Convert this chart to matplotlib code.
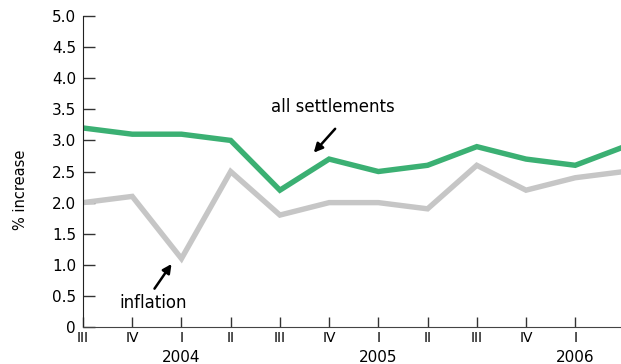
import matplotlib.pyplot as plt
import matplotlib.transforms as mtransforms

plt.rcParams['font.family'] = ['DejaVu Sans']

quarters = ['III', 'IV', 'I', 'II', 'III', 'IV', 'I', 'II', 'III', 'IV', 'I', 'II']
years = ['2004', '2005', '2006']
year_pos = [2, 6, 10]
settlements = [3.2, 3.1, 3.1, 3.0, 2.2, 2.7, 2.5, 2.6, 2.9, 2.7, 2.6, 2.9]
inflation = [2.0, 2.1, 1.1, 2.5, 1.8, 2.0, 2.0, 1.9, 2.6, 2.2, 2.4, 2.5]
yticks = [0, 0.5, 1.0, 1.5, 2.0, 2.5, 3.0, 3.5, 4.0, 4.5, 5.0]

fig = plt.figure(figsize=(6.21, 3.64), dpi=100)
ax = fig.add_axes([0.1337, 0.1016, 0.8663, 0.8544])

x = list(range(len(quarters)))
ax.plot(x, inflation, color='#c6c6c6', lw=3.9, solid_joinstyle='miter')
ax.plot(x, settlements, color='#3bb073', lw=3.9, solid_joinstyle='miter')

ax.set_xlim(0, 10.93)
ax.set_ylim(0, 5)
ax.spines['top'].set_visible(False)
ax.spines['right'].set_visible(False)
ax.spines['left'].set_color('#222222')
ax.spines['bottom'].set_color('#444444')

ax.set_yticks(yticks)
ax.set_yticklabels(['0' if v == 0 else '%.1f' % v for v in yticks], fontsize=11)
ax.set_xticks(x[:11])
ax.set_xticklabels(quarters[:11], fontsize=10)
ax.tick_params(axis='y', direction='in', length=8.5, width=1, pad=5, color='#333333')
ax.tick_params(axis='x', direction='in', length=7, width=1, pad=3, color='#333333')

trans = mtransforms.blended_transform_factory(ax.transData, fig.transFigure)
for p, yr in zip(year_pos, years):
    ax.text(p, 0.018, yr, transform=trans, ha='center', va='center', fontsize=11)

ax.set_ylabel('% increase', fontsize=10.5)
ax.yaxis.set_label_coords(-0.103, 0.44)

ax.annotate('', xy=(4.65, 2.77), xytext=(5.16, 3.22),
            arrowprops=dict(arrowstyle='-|>', lw=1.8, color='black', mutation_scale=13))
ax.text(5.08, 3.54, 'all settlements', ha='center', va='center', fontsize=12)
ax.annotate('', xy=(1.83, 1.05), xytext=(1.42, 0.58),
            arrowprops=dict(arrowstyle='-|>', lw=1.8, color='black', mutation_scale=13))
ax.text(1.42, 0.38, 'inflation', ha='center', va='center', fontsize=12)

fig.savefig('out.png', dpi=100)
